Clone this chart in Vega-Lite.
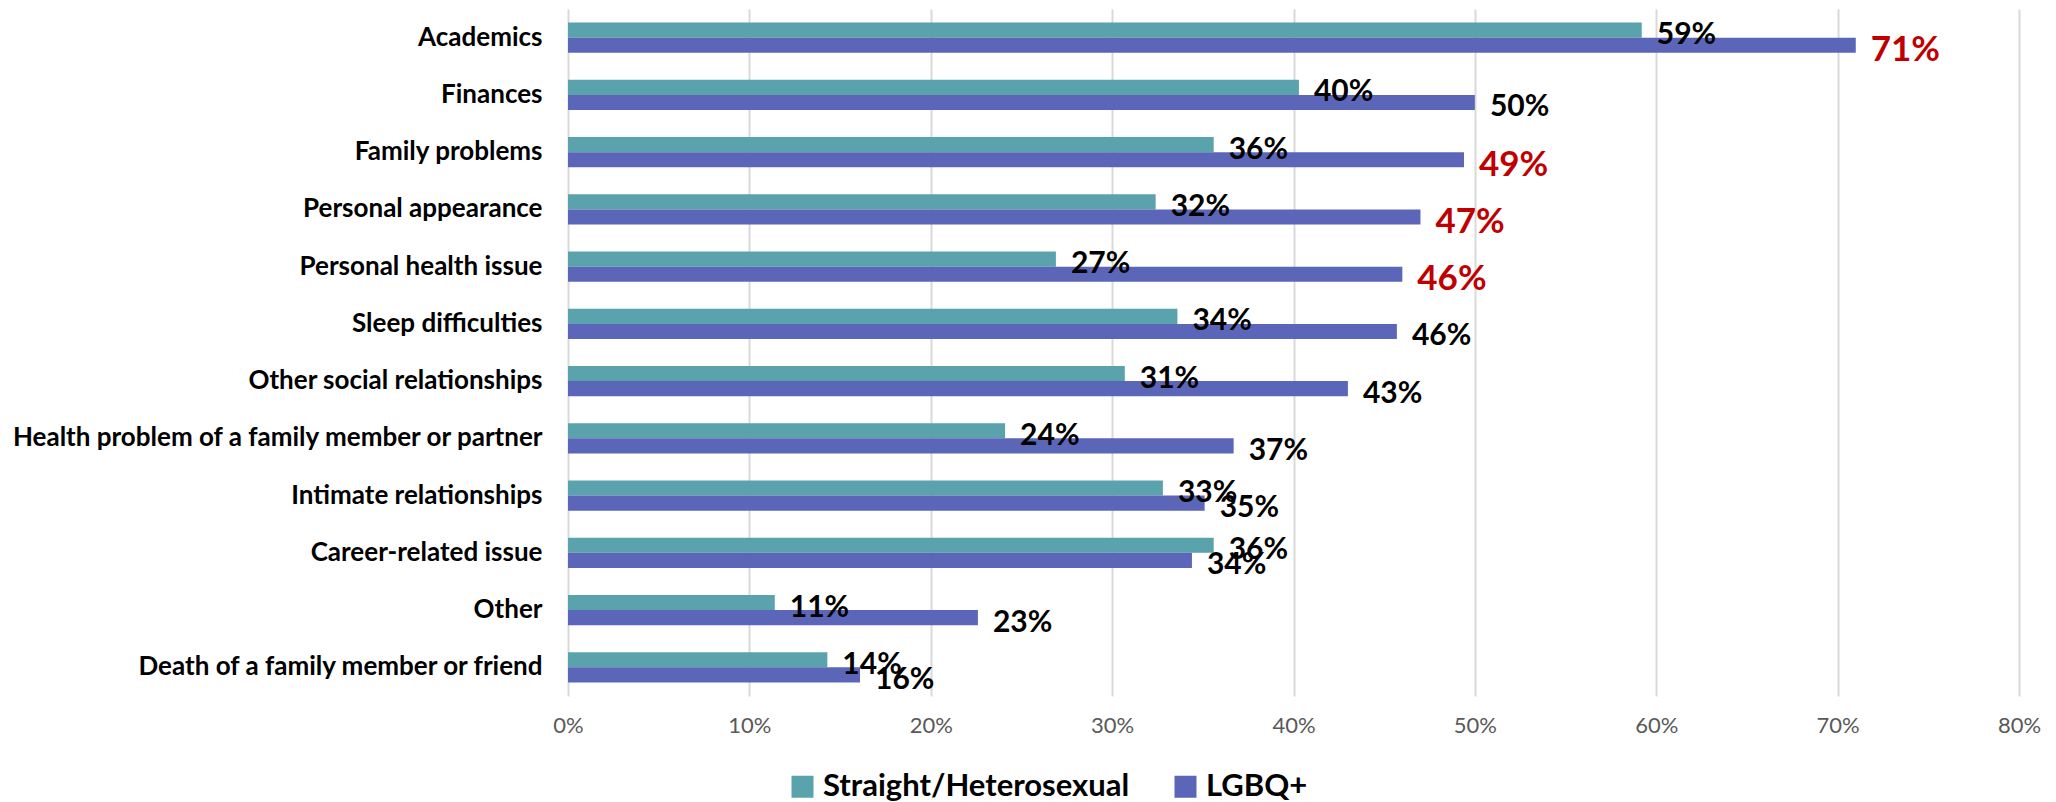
{
  "$schema": "https://vega.github.io/schema/vega-lite/v6.json",
  "autosize": {"type": "none"},
  "padding": {"left": 568, "top": 9, "right": 37, "bottom": 106},
  "width": 1451,
  "height": 687,
  "background": "white",
  "config": {
    "view": {"stroke": null},
    "font": "Lato"
  },
  "data": {
    "values": [
      {"category": "Academics", "group": "Straight/Heterosexual", "value": 0.592},
      {"category": "Academics", "group": "LGBQ+", "value": 0.710},
      {"category": "Finances", "group": "Straight/Heterosexual", "value": 0.403},
      {"category": "Finances", "group": "LGBQ+", "value": 0.500},
      {"category": "Family problems", "group": "Straight/Heterosexual", "value": 0.356},
      {"category": "Family problems", "group": "LGBQ+", "value": 0.494},
      {"category": "Personal appearance", "group": "Straight/Heterosexual", "value": 0.324},
      {"category": "Personal appearance", "group": "LGBQ+", "value": 0.470},
      {"category": "Personal health issue", "group": "Straight/Heterosexual", "value": 0.269},
      {"category": "Personal health issue", "group": "LGBQ+", "value": 0.460},
      {"category": "Sleep difficulties", "group": "Straight/Heterosexual", "value": 0.336},
      {"category": "Sleep difficulties", "group": "LGBQ+", "value": 0.457},
      {"category": "Other social relationships", "group": "Straight/Heterosexual", "value": 0.307},
      {"category": "Other social relationships", "group": "LGBQ+", "value": 0.430},
      {"category": "Health problem of a family member or partner", "group": "Straight/Heterosexual", "value": 0.241},
      {"category": "Health problem of a family member or partner", "group": "LGBQ+", "value": 0.367},
      {"category": "Intimate relationships", "group": "Straight/Heterosexual", "value": 0.328},
      {"category": "Intimate relationships", "group": "LGBQ+", "value": 0.351},
      {"category": "Career-related issue", "group": "Straight/Heterosexual", "value": 0.356},
      {"category": "Career-related issue", "group": "LGBQ+", "value": 0.344},
      {"category": "Other", "group": "Straight/Heterosexual", "value": 0.114},
      {"category": "Other", "group": "LGBQ+", "value": 0.226},
      {"category": "Death of a family member or friend", "group": "Straight/Heterosexual", "value": 0.143},
      {"category": "Death of a family member or friend", "group": "LGBQ+", "value": 0.161}
    ]
  },
  "encoding": {
    "y": {
      "field": "category",
      "type": "nominal",
      "sort": null,
      "scale": {"paddingInner": 0.4755, "paddingOuter": 0.2378},
      "axis": {
        "title": null,
        "domain": false,
        "ticks": false,
        "labelPadding": 26,
        "labelFont": "Lato",
        "labelFontSize": 26,
        "labelFontWeight": "bold",
        "labelColor": "#000000",
        "labelLimit": 700
      }
    },
    "yOffset": {
      "field": "group",
      "type": "nominal",
      "sort": ["Straight/Heterosexual", "LGBQ+"],
      "scale": {"paddingInner": 0, "paddingOuter": 0}
    },
    "x": {
      "field": "value",
      "type": "quantitative",
      "scale": {"domain": [0, 0.8], "nice": false},
      "axis": {
        "title": null,
        "values": [0, 0.1, 0.2, 0.3, 0.4, 0.5, 0.6, 0.7, 0.8],
        "format": ".0%",
        "domain": false,
        "ticks": false,
        "grid": true,
        "gridColor": "#D9D9D9",
        "gridWidth": 2,
        "labelPadding": 19,
        "labelFont": "Lato",
        "labelFontSize": 22,
        "labelColor": "#595959",
        "labelFlush": false
      }
    }
  },
  "layer": [
    {
      "mark": {"type": "bar"},
      "encoding": {
        "color": {
          "field": "group",
          "type": "nominal",
          "sort": ["Straight/Heterosexual", "LGBQ+"],
          "scale": {"domain": ["Straight/Heterosexual", "LGBQ+"], "range": ["#5AA3AD", "#5C66B8"]},
          "legend": {
            "title": null,
            "orient": "none",
            "direction": "horizontal",
            "legendX": 219,
            "legendY": 762,
            "symbolType": "square",
            "symbolSize": 484,
            "symbolStrokeWidth": 0,
            "labelFont": "Lato",
            "labelFontSize": 31,
            "labelFontWeight": "bold",
            "labelColor": "#000000",
            "labelOffset": 5,
            "columnPadding": 40,
            "labelLimit": 600
          }
        }
      }
    },
    {
      "mark": {"type": "text", "align": "left", "baseline": "middle", "dx": 15, "dy": 5, "fontWeight": "bold", "font": "Lato"},
      "encoding": {
        "text": {"field": "value", "type": "quantitative", "format": ".0%"},
        "color": {
          "condition": {
            "test": "datum.group === 'LGBQ+' && indexof(['Academics','Family problems','Personal appearance','Personal health issue'], datum.category) >= 0",
            "value": "#C00000"
          },
          "value": "#000000"
        },
        "size": {
          "condition": {
            "test": "datum.group === 'LGBQ+' && indexof(['Academics','Family problems','Personal appearance','Personal health issue'], datum.category) >= 0",
            "value": 35
          },
          "value": 30
        }
      }
    }
  ]
}
